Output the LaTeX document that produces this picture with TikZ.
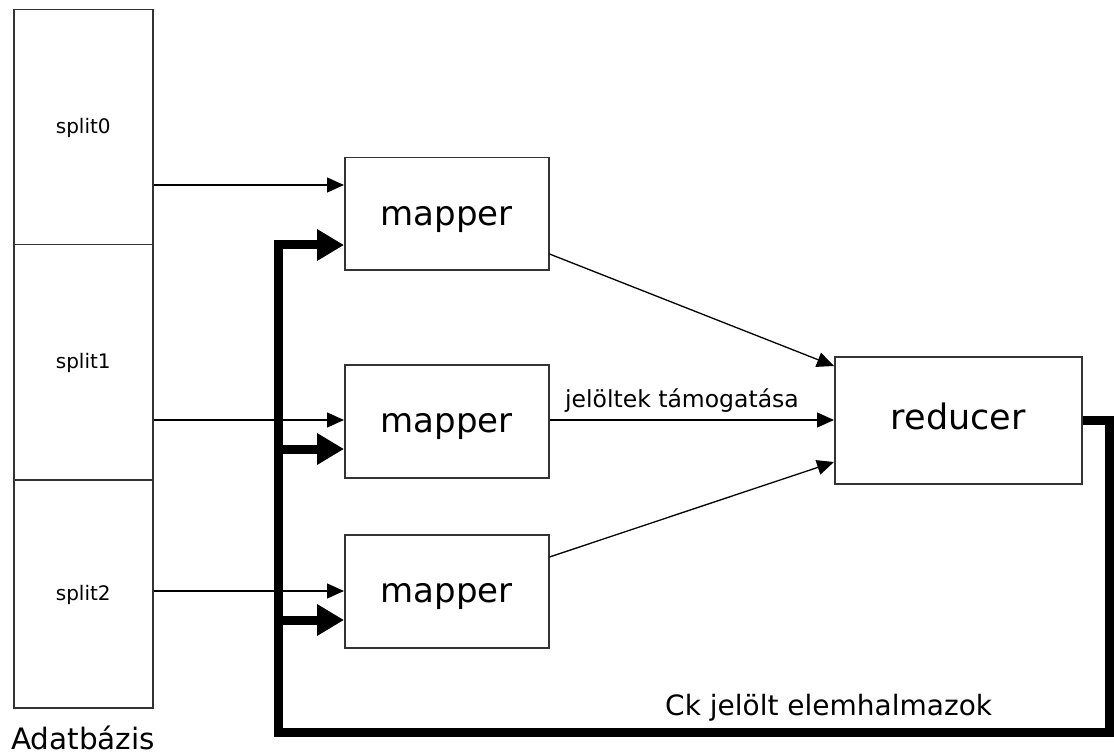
\documentclass[tikz,border=0pt]{standalone}
\usepackage{fontspec}
\setmainfont{DejaVu Sans}
\usetikzlibrary{arrows.meta}
\begin{document}
\begin{tikzpicture}[x=1pt,y=-1pt,
 box/.style={draw=black!80, line width=1.5pt, anchor=north west, inner sep=0pt, text depth=0pt},
 splitbox/.style={box, minimum width=139pt, font=\fontsize{20}{24}\selectfont, text height=13pt},
 mapbox/.style={box, minimum width=204pt, font=\fontsize{34}{40}\selectfont, text height=23pt},
 thinarr/.style={line width=1.3pt, -{Triangle[length=17pt,width=15pt]}},
 thickarr/.style={line width=9pt, line join=miter, line cap=butt, -{Triangle[length=27pt,width=30pt]}},
 lab/.style={inner sep=0pt}
]
\useasboundingbox (0,0) rectangle (1114,754);

% database splits
\node[splitbox, minimum height=235pt] (s0) at (13,9) {split0};
\node[splitbox, minimum height=235pt] (s1) at (13,244) {split1};
\node[splitbox, minimum height=228pt] (s2) at (13,479) {split2};
\node[lab, anchor=base, font=\fontsize{29.5}{34}\selectfont] (db) at (83,749) {Adatbázis};

% mappers
\node[mapbox, minimum height=112pt] (m1) at (344,157) {mapper};
\node[mapbox, minimum height=113pt] (m2) at (344,364) {mapper};
\node[mapbox, minimum height=113pt] (m3) at (344,534) {mapper};

% reducer
\node[box, minimum width=247pt, minimum height=127pt, font=\fontsize{35}{40}\selectfont, text height=19pt] (r) at (834,356) {reducer};

% helper coordinates
\coordinate (y0) at (0,185);
\coordinate (y1) at (0,420);
\coordinate (y2) at (0,591);
\coordinate (a1) at (0,254);
\coordinate (b1) at (0,366);
\coordinate (a3) at (0,557);
\coordinate (b3) at (0,462);
\coordinate (fb) at (1109,420);
\coordinate (fbr) at (1109,732);
\coordinate (fbl) at (278,732);
\coordinate (fbt) at (278,245);
\coordinate (j2) at (278,449);
\coordinate (j3) at (278,620);

% split -> mapper
\draw[thinarr] (s0.east |- y0) -- (m1.west |- y0);
\draw[thinarr] (s1.east |- y1) -- (m2.west |- y1);
\draw[thinarr] (s2.east |- y2) -- (m3.west |- y2);

% mapper -> reducer
\draw[thinarr] (m1.east |- a1) -- (r.west |- b1);
\draw[thinarr] (m2.east |- y1) -- (r.west |- y1);
\draw[thinarr] (m3.east |- a3) -- (r.west |- b3);

% feedback loop
\draw[thickarr] (r.east |- fb) -- (fb) -- (fbr) -- (fbl) -- (fbt) -- (m1.west |- fbt);
\draw[thickarr] (j2) -- (m2.west |- j2);
\draw[thickarr] (j3) -- (m3.west |- j3);

% labels
\node[lab, anchor=base west, font=\fontsize{23.5}{28}\selectfont] (l1) at (565,407) {jelöltek támogatása};
\node[lab, anchor=base west, font=\fontsize{28}{32}\selectfont] (l2) at (665,715) {Ck jelölt elemhalmazok};
\end{tikzpicture}
\end{document}
